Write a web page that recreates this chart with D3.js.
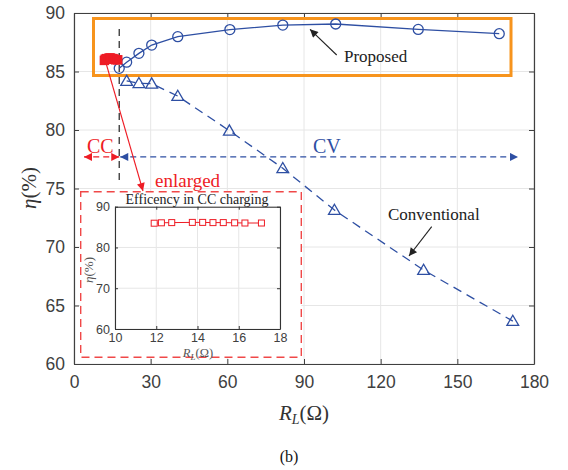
<!DOCTYPE html>
<html><head><meta charset="utf-8">
<script src="https://cdn.jsdelivr.net/npm/d3@7"></script>
<style>body{margin:0;background:#fff;} svg{display:block;}</style>
</head><body>
<script>
// ---- data ----
const proposedX = [17.7, 20.6, 25.4, 30.4, 40.6, 61.0, 81.7, 102.4, 134.7, 166.4];
const proposedY = [85.27, 85.8, 86.55, 87.26, 87.98, 88.58, 88.97, 89.06, 88.6, 88.23];
const convX = [20.6, 25.4, 30.4, 40.6, 60.8, 81.7, 101.9, 136.8, 171.7];
const convY = [84.19, 83.99, 83.96, 82.9, 79.94, 76.73, 73.16, 68.03, 63.67];
const ccX = [11.9, 12.25, 12.75, 13.75, 14.25, 14.75, 15.25, 15.8, 16.3, 17.1];
const ccY = [85.95, 86.05, 86.1, 86.15, 86.15, 86.1, 86.1, 86.05, 86.0, 86.0];
const xTicks = [0, 30, 60, 90, 120, 150, 180];
const yTicks = [60, 65, 70, 75, 80, 85, 90];
const insetXTicks = [10, 12, 14, 16, 18];
const insetYTicks = [60, 70, 80, 90];

const W = 568, H = 470;
const svg = d3.select("body").append("svg").attr("width", W).attr("height", H);
const sans = "'Liberation Sans', Arial, sans-serif";
const serif = "'Liberation Serif', 'Times New Roman', serif";
const axisCol = "#404040", gridCol = "#e6e6e6", blue = "#2e4fa3", red = "#ee1c25";

const x = d3.scaleLinear().domain([0, 180]).range([74, 534]);
const y = d3.scaleLinear().domain([60, 90]).range([364, 13]);

// defs: arrowheads
const defs = svg.append("defs");
function marker(id, color, w, h) {
  defs.append("marker").attr("id", id).attr("viewBox", "0 0 10 10")
    .attr("refX", 10).attr("refY", 5).attr("markerWidth", w).attr("markerHeight", h)
    .attr("markerUnits", "userSpaceOnUse").attr("orient", "auto-start-reverse")
    .append("path").attr("d", "M0,0 L10,5 L0,10 Z").attr("fill", color);
}
marker("ablk", "#222", 11, 8);
marker("ared", red, 11, 8);
marker("ablu", blue, 11, 8);

// grid
const g = svg.append("g");
g.selectAll(".gx").data(xTicks).join("line")
  .attr("x1", d => x(d)).attr("x2", d => x(d)).attr("y1", y(60)).attr("y2", y(90))
  .attr("stroke", gridCol).attr("stroke-width", 1);
g.selectAll(".gy").data(yTicks).join("line")
  .attr("y1", d => y(d)).attr("y2", d => y(d)).attr("x1", x(0)).attr("x2", x(180))
  .attr("stroke", gridCol).attr("stroke-width", 1);

// axes
function styleAxis(sel) {
  sel.selectAll("path").attr("stroke", axisCol).attr("stroke-width", 1.2);
  sel.selectAll("line").attr("stroke", axisCol);
  sel.selectAll("text").attr("fill", axisCol).style("font-family", sans).style("font-size", "17.5px");
}
svg.append("g").attr("transform", `translate(0,${y(60)})`)
  .call(d3.axisBottom(x).tickValues(xTicks).tickSizeInner(-5).tickSizeOuter(0).tickPadding(12))
  .call(styleAxis);
svg.append("g").attr("transform", `translate(0,${y(90)})`)
  .call(d3.axisTop(x).tickValues(xTicks).tickSizeInner(-5).tickSizeOuter(0).tickFormat(""))
  .call(styleAxis);
svg.append("g").attr("transform", `translate(${x(0)},0)`)
  .call(d3.axisLeft(y).tickValues(yTicks).tickSizeInner(-5).tickSizeOuter(0).tickPadding(9))
  .call(styleAxis);
svg.append("g").attr("transform", `translate(${x(180)},0)`)
  .call(d3.axisRight(y).tickValues(yTicks).tickSizeInner(-5).tickSizeOuter(0).tickFormat(""))
  .call(styleAxis);

// axis labels
svg.append("text").attr("x", 304).attr("y", 420).attr("text-anchor", "middle")
  .style("font-family", serif).style("font-size", "21px").attr("fill", "#333")
  .html('<tspan font-style="italic">R</tspan><tspan font-style="italic" font-size="14px" dy="4">L</tspan><tspan dy="-4">(Ω)</tspan>');
svg.append("text").attr("transform", "translate(36,188) rotate(-90)").attr("text-anchor", "middle")
  .style("font-family", serif).style("font-size", "21px").attr("fill", "#333")
  .html('<tspan font-style="italic">η</tspan>(%)');
svg.append("text").attr("x", 289).attr("y", 462).attr("text-anchor", "middle")
  .style("font-family", serif).style("font-size", "16px").attr("fill", "#111").text("(b)");

// orange box
svg.append("rect").attr("x", 93.5).attr("y", 18.5).attr("width", 417.5).attr("height", 57)
  .attr("fill", "none").attr("stroke", "#f7941d").attr("stroke-width", 3);

// vertical dashed line
svg.append("line").attr("x1", x(17.7)).attr("x2", x(17.7)).attr("y1", 29).attr("y2", 180)
  .attr("stroke", "#333").attr("stroke-width", 1.3).attr("stroke-dasharray", "7,5");

// CC / CV arrows
const arrY = y(77.7);
svg.append("line").attr("x1", x(17.7)).attr("x2", 84).attr("y1", arrY).attr("y2", arrY)
  .attr("stroke", red).attr("stroke-width", 1.3).attr("stroke-dasharray", "6,4")
  .attr("marker-start", "url(#ared)").attr("marker-end", "url(#ared)");
svg.append("line").attr("x1", x(17.7) + 1).attr("x2", 518).attr("y1", arrY).attr("y2", arrY)
  .attr("stroke", blue).attr("stroke-width", 1.3).attr("stroke-dasharray", "6,4")
  .attr("marker-start", "url(#ablu)").attr("marker-end", "url(#ablu)");
svg.append("text").attr("x", 87).attr("y", 153).style("font-family", serif).style("font-size", "20px")
  .attr("fill", red).text("CC");
svg.append("text").attr("x", 313).attr("y", 153).style("font-family", serif).style("font-size", "20px")
  .attr("fill", blue).text("CV");

// conventional line
const lineGen = d3.line().x(d => x(d[0])).y(d => y(d[1]));
svg.append("path").datum(d3.zip(convX, convY)).attr("d", lineGen)
  .attr("fill", "none").attr("stroke", blue).attr("stroke-width", 1.3).attr("stroke-dasharray", "9,6");
const tri = d3.symbol().type(d3.symbolTriangle).size(60);
svg.selectAll(".tri").data(d3.zip(convX, convY)).join("path")
  .attr("d", tri).attr("transform", d => `translate(${x(d[0])},${y(d[1]) + 1})`)
  .attr("fill", "none").attr("stroke", blue).attr("stroke-width", 1.3);

// proposed line
svg.append("path").datum(d3.zip(proposedX, proposedY)).attr("d", lineGen)
  .attr("fill", "none").attr("stroke", blue).attr("stroke-width", 1.3);
svg.selectAll(".circ").data(d3.zip(proposedX, proposedY)).join("circle")
  .attr("cx", d => x(d[0])).attr("cy", d => y(d[1])).attr("r", 5)
  .attr("fill", "none").attr("stroke", blue).attr("stroke-width", 1.3);

// CC points in main plot (red blob)
svg.append("path").datum(d3.zip(ccX, ccY)).attr("d", lineGen)
  .attr("fill", "none").attr("stroke", red).attr("stroke-width", 2);
svg.selectAll(".ccm").data(d3.zip(ccX, ccY)).join("rect")
  .attr("x", d => x(d[0]) - 4).attr("y", d => y(d[1]) - 4).attr("width", 8).attr("height", 8)
  .attr("fill", red).attr("stroke", red).attr("stroke-width", 1.5);

// annotations
svg.append("line").attr("x1", 336.7).attr("y1", 55).attr("x2", 310).attr("y2", 29.3)
  .attr("stroke", "#222").attr("stroke-width", 1.1).attr("marker-end", "url(#ablk)");
svg.append("text").attr("x", 344).attr("y", 62).style("font-family", serif).style("font-size", "17px")
  .attr("fill", "#222").text("Proposed");
svg.append("line").attr("x1", 431.7).attr("y1", 226.7).attr("x2", 409).attr("y2", 256)
  .attr("stroke", "#222").attr("stroke-width", 1.1).attr("marker-end", "url(#ablk)");
svg.append("text").attr("x", 388).attr("y", 220).style("font-family", serif).style("font-size", "17px")
  .attr("fill", "#222").text("Conventional");
svg.append("line").attr("x1", 105.7).attr("y1", 62).attr("x2", 143).attr("y2", 191)
  .attr("stroke", red).attr("stroke-width", 1.1).attr("marker-end", "url(#ared)");
svg.append("text").attr("x", 155).attr("y", 187).style("font-family", serif).style("font-size", "19px")
  .attr("fill", red).text("enlarged");

// inset frame
svg.append("rect").attr("x", 80.7).attr("y", 191.7).attr("width", 220.6).attr("height", 165.6)
  .attr("fill", "#fff").attr("stroke", "#f04848").attr("stroke-width", 1.4).attr("stroke-dasharray", "8,5");

// inset axes
const xi = d3.scaleLinear().domain([10, 18]).range([115, 280]);
const yi = d3.scaleLinear().domain([60, 90]).range([329, 206.7]);
const gi = svg.append("g");
gi.selectAll(".gxi").data(insetXTicks).join("line")
  .attr("x1", d => xi(d)).attr("x2", d => xi(d)).attr("y1", yi(60)).attr("y2", yi(90))
  .attr("stroke", gridCol);
gi.selectAll(".gyi").data(insetYTicks).join("line")
  .attr("y1", d => yi(d)).attr("y2", d => yi(d)).attr("x1", xi(10)).attr("x2", xi(18))
  .attr("stroke", gridCol);
function styleInset(sel) {
  sel.selectAll("path").attr("stroke", "#333").attr("stroke-width", 1.1);
  sel.selectAll("line").attr("stroke", "#333");
  sel.selectAll("text").attr("fill", axisCol).style("font-family", sans).style("font-size", "12.5px");
}
svg.append("g").attr("transform", `translate(0,${yi(60)})`)
  .call(d3.axisBottom(xi).tickValues(insetXTicks).tickSizeInner(-3).tickSizeOuter(0).tickPadding(4)).call(styleInset);
svg.append("g").attr("transform", `translate(0,${yi(90)})`)
  .call(d3.axisTop(xi).tickValues(insetXTicks).tickSizeInner(-3).tickSizeOuter(0).tickFormat("")).call(styleInset);
svg.append("g").attr("transform", `translate(${xi(10)},0)`)
  .call(d3.axisLeft(yi).tickValues(insetYTicks).tickSizeInner(-3).tickSizeOuter(0).tickPadding(5)).call(styleInset);
svg.append("g").attr("transform", `translate(${xi(18)},0)`)
  .call(d3.axisRight(yi).tickValues(insetYTicks).tickSizeInner(-3).tickSizeOuter(0).tickFormat("")).call(styleInset);

const lineI = d3.line().x(d => xi(d[0])).y(d => yi(d[1]));
svg.append("path").datum(d3.zip(ccX, ccY)).attr("d", lineI)
  .attr("fill", "none").attr("stroke", red).attr("stroke-width", 1);
svg.selectAll(".cci").data(d3.zip(ccX, ccY)).join("rect")
  .attr("x", d => xi(d[0]) - 3).attr("y", d => yi(d[1]) - 3).attr("width", 6).attr("height", 6)
  .attr("fill", "#fff").attr("stroke", red).attr("stroke-width", 1);

svg.append("text").attr("x", 197).attr("y", 203.5).attr("text-anchor", "middle")
  .style("font-family", serif).style("font-size", "14px").attr("fill", "#222").text("Efficency in CC charging");
svg.append("text").attr("x", 198).attr("y", 357).attr("text-anchor", "middle")
  .style("font-family", serif).style("font-size", "12.5px").attr("fill", "#555")
  .html('<tspan font-style="italic">R</tspan><tspan font-style="italic" font-size="9px" dy="2.5">L</tspan><tspan dy="-2.5">(Ω)</tspan>');
svg.append("text").attr("transform", "translate(93,270) rotate(-90)").attr("text-anchor", "middle")
  .style("font-family", serif).style("font-size", "13px").attr("fill", "#555")
  .html('<tspan font-style="italic">η</tspan>(%)');
</script>
</body></html>
